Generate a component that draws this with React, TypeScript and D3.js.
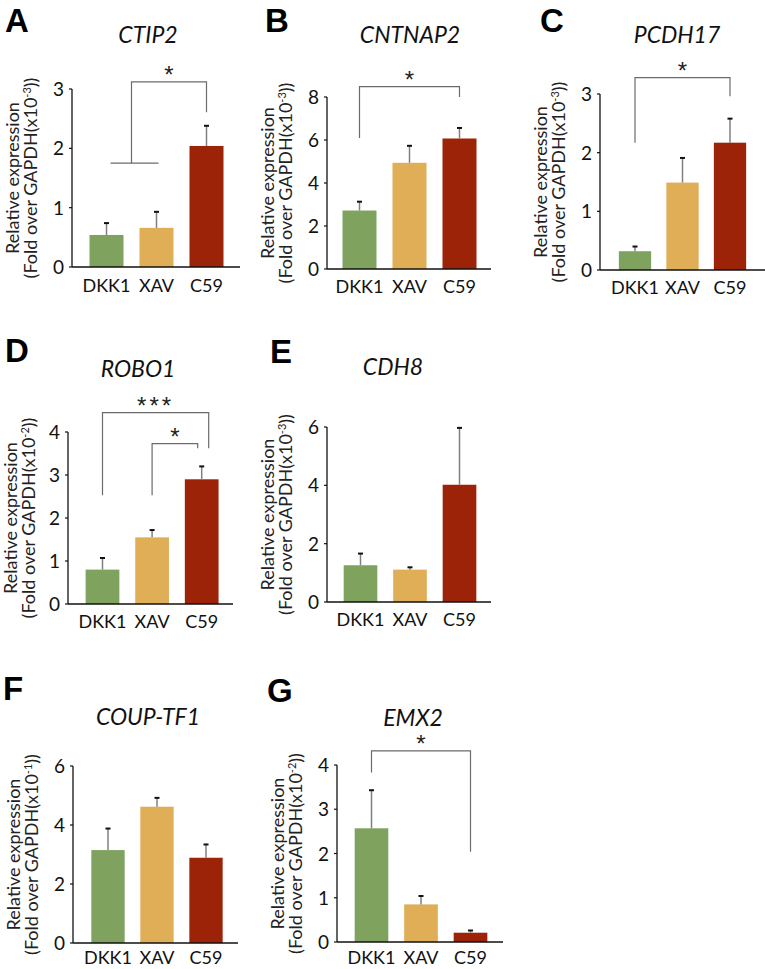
import React from "react";
import * as d3 from "d3";

const categories = ["DKK1", "XAV", "C59"];

const ctip2Means = [0.54, 0.66, 2.04];
const ctip2Errors = [0.2, 0.27, 0.34];
const cntnap2Means = [2.72, 4.94, 6.07];
const cntnap2Errors = [0.41, 0.79, 0.49];
const pcdh17Means = [0.32, 1.49, 2.17];
const pcdh17Errors = [0.08, 0.42, 0.41];
const robo1Means = [0.8, 1.55, 2.9];
const robo1Errors = [0.27, 0.17, 0.3];
const cdh8Means = [1.26, 1.11, 4.02];
const cdh8Errors = [0.4, 0.08, 1.95];
const coupMeans = [3.15, 4.62, 2.89];
const coupErrors = [0.73, 0.3, 0.45];
const emx2Means = [2.57, 0.85, 0.21];
const emx2Errors = [0.86, 0.19, 0.05];

const geneTitles = ["CTIP2", "CNTNAP2", "PCDH17", "ROBO1", "CDH8", "COUP-TF1", "EMX2"];
const panelLetters = ["A", "B", "C", "D", "E", "F", "G"];
const yMaxes = [3, 8, 3, 4, 6, 6, 4];
const tickSteps = [1, 2, 1, 1, 2, 2, 1];
const exponents = ["-3", "-3", "-3", "-2", "-3", "-1", "-2"];

type Bracket = { from: number; to: number; top: number; fromBottom: number; toBottom: number; label: string; toDx?: number; groupFrom?: number[]; groupY?: number };
const ctip2Brackets: Bracket[] = [{ from: -1, to: 2, top: 3.12, fromBottom: 1.75, toBottom: 2.61, label: "*", groupFrom: [0, 1], groupY: 1.75 }];
const cntnap2Brackets: Bracket[] = [{ from: 0, to: 2, top: 8.48, fromBottom: 6.09, toBottom: 8.0, label: "*" }];
const pcdh17Brackets: Bracket[] = [{ from: 0, to: 2, top: 3.28, fromBottom: 2.17, toBottom: 2.96, label: "*" }];
const robo1Brackets: Bracket[] = [
  { from: 0, to: 2, top: 4.45, fromBottom: 2.53, toBottom: 3.62, label: "***", toDx: 7 },
  { from: 1, to: 2, top: 3.73, fromBottom: 2.53, toBottom: 3.62, label: "*", toDx: -4 },
];
const cdh8Brackets: Bracket[] = [];
const coupBrackets: Bracket[] = [];
const emx2Brackets: Bracket[] = [{ from: 0, to: 2, top: 4.32, fromBottom: 3.83, toBottom: 2.04, label: "*" }];

const panels = [
  { means: ctip2Means, errors: ctip2Errors, brackets: ctip2Brackets, layout: { axis: 72, top: 89, bottom: 267, xEnd: 240, c0: 34.5, step: 50, titleX: 148, titleY: 43, letterX: 5, letterY: 32, labelY: 292 } },
  { means: cntnap2Means, errors: cntnap2Errors, brackets: cntnap2Brackets, layout: { axis: 327, top: 97, bottom: 269, xEnd: 491, c0: 32.5, step: 50, titleX: 410, titleY: 43, letterX: 265, letterY: 32, labelY: 293 } },
  { means: pcdh17Means, errors: pcdh17Errors, brackets: pcdh17Brackets, layout: { axis: 600, top: 94, bottom: 270, xEnd: 765, c0: 35, step: 47.5, titleX: 677, titleY: 43, letterX: 540, letterY: 32, labelY: 294 } },
  { means: robo1Means, errors: robo1Errors, brackets: robo1Brackets, layout: { axis: 68, top: 432, bottom: 604, xEnd: 233, c0: 34.5, step: 49.6, titleX: 138, titleY: 377, letterX: 5, letterY: 362, labelY: 628 } },
  { means: cdh8Means, errors: cdh8Errors, brackets: cdh8Brackets, layout: { axis: 327, top: 427, bottom: 602, xEnd: 491, c0: 33.5, step: 49.5, titleX: 393, titleY: 375, letterX: 270, letterY: 363, labelY: 626 } },
  { means: coupMeans, errors: coupErrors, brackets: coupBrackets, layout: { axis: 73, top: 766, bottom: 943, xEnd: 238, c0: 35, step: 49, titleX: 148, titleY: 725, letterX: 3, letterY: 700, labelY: 964 } },
  { means: emx2Means, errors: emx2Errors, brackets: emx2Brackets, layout: { axis: 337, top: 765, bottom: 942, xEnd: 503, c0: 34.5, step: 49.5, titleX: 413, titleY: 726, letterX: 267, letterY: 702, labelY: 964 } },
];

const barColors = ["#7fa35f", "#dfae57", "#9c2308"];
const FONT = "Lato, 'Open Sans', sans-serif";

function Panel({ idx }: { idx: number }) {
  const p = panels[idx];
  const L = p.layout;
  const y = d3.scaleLinear().domain([0, yMaxes[idx]]).range([L.bottom, L.top]);
  const x = d3
    .scaleBand<string>()
    .domain(categories)
    .range([L.axis + L.c0 - L.step / 2, L.axis + L.c0 + L.step * 2.5])
    .paddingInner(0.32)
    .paddingOuter(0.16);
  const cx = (i: number) => (x(categories[i]) as number) + x.bandwidth() / 2;
  const ticks = d3.range(0, yMaxes[idx] + 1e-9, tickSteps[idx]);
  const midY = (L.top + L.bottom) / 2;
  const bracketColor = "#6b6b6b";
  const labelX = Math.max(L.axis - 53, 17);

  return (
    <g>
      <text x={L.letterX} y={L.letterY} fontFamily="'Liberation Sans', Arial, sans-serif" fontWeight="bold" fontSize={33} fill="#000">
        {panelLetters[idx]}
      </text>
      <text x={L.titleX} y={L.titleY} textAnchor="middle" fontFamily={FONT} fontStyle="italic" fontSize={23} fill="#111">
        {geneTitles[idx]}
      </text>
      <text transform={`translate(${labelX},${midY}) rotate(-90)`} textAnchor="middle" fontFamily={FONT} fontSize={18} fill="#222">
        Relative expression
      </text>
      <text transform={`translate(${labelX + 18},${midY}) rotate(-90)`} textAnchor="middle" fontFamily={FONT} fontSize={18} fill="#222">
        (Fold over GAPDH(x10<tspan dy={-6} fontSize={11}>{exponents[idx]}</tspan>
        <tspan dy={6}>))</tspan>
      </text>
      {p.means.map((m, i) => (
        <rect key={"b" + i} x={x(categories[i])} y={y(m)} width={x.bandwidth()} height={L.bottom - y(m)} fill={barColors[i]} />
      ))}
      {p.means.map((m, i) => (
        <g key={"e" + i}>
          <line x1={cx(i)} x2={cx(i)} y1={y(m)} y2={y(m + p.errors[i])} stroke="#808080" strokeWidth={1.5} />
          <line x1={cx(i) - 2.5} x2={cx(i) + 2.5} y1={y(m + p.errors[i])} y2={y(m + p.errors[i])} stroke="#111" strokeWidth={2} />
        </g>
      ))}
      <line x1={L.axis} x2={L.axis} y1={L.top} y2={L.bottom} stroke="#111" strokeWidth={1.3} />
      <line x1={L.axis} x2={L.xEnd} y1={L.bottom} y2={L.bottom} stroke="#111" strokeWidth={1.5} />
      {ticks.map((t) => (
        <g key={"t" + t}>
          <line x1={L.axis - 3} x2={L.axis} y1={y(t)} y2={y(t)} stroke="#111" strokeWidth={1.2} />
          <text x={L.axis - 8} y={y(t) + 7} textAnchor="end" fontFamily={FONT} fontSize={19} fill="#111">
            {t}
          </text>
        </g>
      ))}
      {categories.map((c, i) => (
        <text key={"c" + i} x={cx(i)} y={L.labelY} textAnchor="middle" fontFamily={FONT} fontSize={18} fill="#111">
          {c}
        </text>
      ))}
      {p.brackets.map((b, k) => {
        const xTo = cx(b.to) + (b.toDx || 0);
        let xFrom: number;
        const parts: React.ReactNode[] = [];
        if (b.groupFrom) {
          const g0 = cx(b.groupFrom[0]) + 4;
          const g1 = cx(b.groupFrom[1]) + 2;
          xFrom = (cx(b.groupFrom[0]) + cx(b.groupFrom[1])) / 2;
          parts.push(<line key="g" x1={g0} x2={g1} y1={y(b.groupY as number)} y2={y(b.groupY as number)} stroke={bracketColor} strokeWidth={1.2} />);
        } else {
          xFrom = cx(b.from);
        }
        const path = d3.path();
        path.moveTo(xFrom, y(b.fromBottom));
        path.lineTo(xFrom, y(b.top));
        path.lineTo(xTo, y(b.top));
        path.lineTo(xTo, y(b.toBottom));
        return (
          <g key={"br" + k}>
            {parts}
            <path d={path.toString()} fill="none" stroke={bracketColor} strokeWidth={1.2} />
            <text x={(xFrom + xTo) / 2} y={y(b.top) + 1} textAnchor="middle" fontFamily="'Liberation Sans', Arial, sans-serif" fontSize={24} fill="#222" letterSpacing={b.label.length > 1 ? 3 : 0}>
              {b.label}
            </text>
          </g>
        );
      })}
    </g>
  );
}

export default function App() {
  return (
    <svg width={765} height={969} style={{ position: "absolute", left: 0, top: 0, background: "#fff" }}>
      <rect width={765} height={969} fill="#fff" />
      {panels.map((_, i) => (
        <Panel key={i} idx={i} />
      ))}
    </svg>
  );
}
